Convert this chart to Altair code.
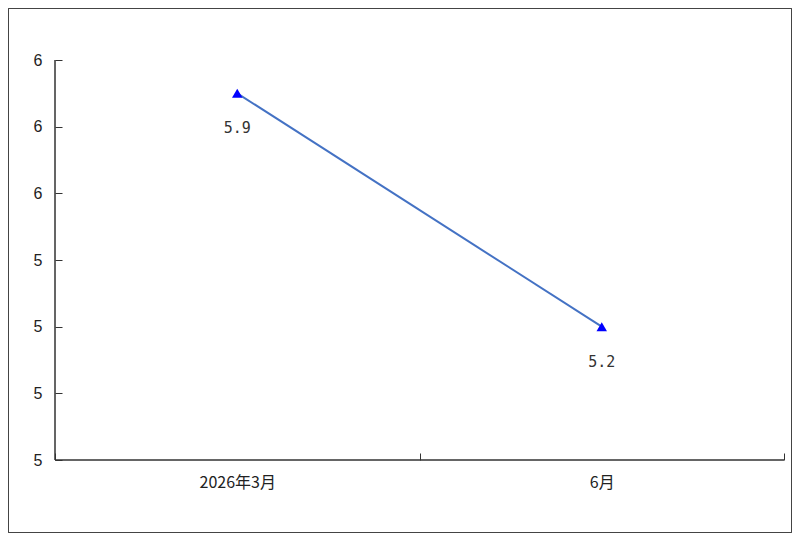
import altair as alt
import pandas as pd

categories = ["2026年3月", "6月"]
values = [5.9, 5.2]
labels = ["5.9", "5.2"]
y_ticks = [4.8, 5.0, 5.2, 5.4, 5.6, 5.8, 6.0]

df = pd.DataFrame({"cat": categories, "val": values, "lab": labels})

W, H = 729, 400

xenc = alt.X("cat:N", sort=categories, title=None,
             scale=alt.Scale(paddingInner=0, paddingOuter=0),
             axis=alt.Axis(offset=-7, tickSize=7, tickBand="extent", domain=False,
                           labelAngle=0, labelPadding=14, labelFont="Noto Sans CJK SC",
                           labelFontSize=16, labelColor="#222", tickColor="#333",
                           tickWidth=1))
yenc = alt.Y("val:Q", title=None,
             scale=alt.Scale(domain=[4.8, 6.0], nice=False, zero=False),
             axis=alt.Axis(values=y_ticks, format=".0f", offset=-7, tickSize=7,
                           domain=False, grid=False, labelPadding=13,
                           labelFont="Liberation Sans", labelFontSize=16,
                           labelColor="#222", tickColor="#333", tickWidth=1))

base = alt.Chart(df)

line = base.mark_line(color="#4472C4", strokeWidth=2).encode(x=xenc, y=yenc)
pts = base.mark_point(shape="triangle-up", filled=True, color="#0000FF", size=110, opacity=1).encode(x=xenc, y=yenc)
txt = base.mark_text(dy=35, font="DejaVu Sans Mono", fontSize=15, color="#333").encode(x=xenc, y=yenc, text="lab:N")

yline = alt.Chart(df).mark_rule(color="#333", strokeWidth=1).encode(
    x=alt.value(0), y=alt.value(0), y2=alt.value(H))
xline = alt.Chart(df).mark_rule(color="#333", strokeWidth=1).encode(
    x=alt.value(0), x2=alt.value(W), y=alt.value(H))
frame = alt.Chart(df).mark_rect(fill=None, stroke="#444", strokeWidth=1).encode(
    x=alt.value(-46.5), x2=alt.value(W + 7.5), y=alt.value(-51.5), y2=alt.value(H + 72.5))

chart = alt.layer(frame, yline, xline, line, pts, txt).properties(
    width=W, height=H,
    background="white",
    autosize=alt.AutoSizeParams(type="none"),
    padding={"left": 47, "top": 52, "right": 8, "bottom": 73},
).configure_view(stroke=None)

chart.save("out.html", embed_options={"renderer": "svg", "actions": False})
